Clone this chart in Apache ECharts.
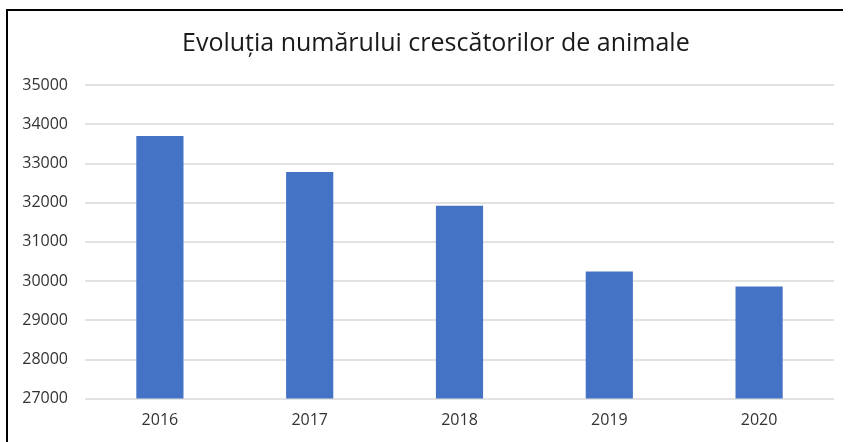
<!DOCTYPE html>
<html lang="ro">
<head>
    <meta charset="UTF-8">
    <title>Evoluția numărului crescătorilor de animale</title>
    <style>
        html, body { margin: 0; padding: 0; background: #fff; }
    </style>
</head>
<body>
    <div id="main" style="width: 848px;height:442px"></div>

    <script src="https://cdn.jsdelivr.net/npm/echarts@6/dist/echarts.min.js"></script>
    <script>
        const years = ['2016', '2017', '2018', '2019', '2020'];
        const farmers = [33700, 32780, 31920, 30240, 29860];
        const yTicks = { min: 27000, max: 35000, step: 1000 };

        const chart = echarts.init(document.getElementById('main'));

        const font = '"Open Sans", sans-serif';

        const option = {
            animation: false,
            title: {
                text: 'Evoluția numărului crescătorilor de animale',
                left: 177,
                top: 26,
                textStyle: {
                    fontFamily: font,
                    fontSize: 25,
                    fontWeight: 'normal',
                    color: '#1a1a1a'
                }
            },
            // chart frame, only the top and left edges are in the picture
            graphic: [
                { type: 'line', shape: { x1: 7, y1: 10, x2: 843, y2: 10 }, style: { stroke: '#000', lineWidth: 2 } },
                { type: 'line', shape: { x1: 7, y1: 9, x2: 7, y2: 442 }, style: { stroke: '#000', lineWidth: 2 } }
            ],
            grid: {
                left: 85,
                right: 14,
                top: 85,
                bottom: 43.5
            },
            xAxis: {
                type: 'category',
                data: years,
                axisLine: { show: false },
                axisTick: { show: false },
                axisLabel: {
                    margin: 14,
                    fontFamily: font,
                    fontSize: 16,
                    color: '#333'
                }
            },
            yAxis: {
                type: 'value',
                min: yTicks.min,
                max: yTicks.max,
                interval: yTicks.step,
                axisLine: { show: false },
                axisTick: { show: false },
                axisLabel: {
                    margin: 17,
                    fontFamily: font,
                    fontSize: 16,
                    color: '#333',
                    formatter: v => String(v)
                },
                splitLine: {
                    lineStyle: { color: '#d9d9d9', width: 1.5 }
                }
            },
            series: [{
                type: 'bar',
                data: farmers,
                barWidth: '31.5%',
                itemStyle: { color: '#4472c4' }
            }]
        };

        chart.setOption(option);
    </script>
</body>
</html>
